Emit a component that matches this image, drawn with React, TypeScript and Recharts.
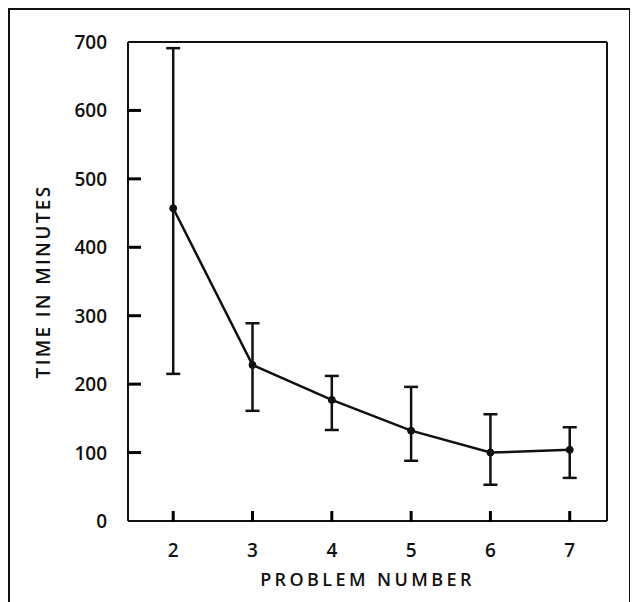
import { ErrorBar, Label, Line, LineChart, ReferenceLine, XAxis, YAxis } from 'recharts';

const problems = [2, 3, 4, 5, 6, 7];
const meanMinutes = [457, 228, 177, 132, 100, 104];
const lowMinutes = [215, 161, 133, 88, 53, 63];
const highMinutes = [691, 289, 212, 196, 156, 137];
const yTicks = [0, 100, 200, 300, 400, 500, 600, 700];

const data = problems.map((p, i) => ({
  problem: p,
  mean: meanMinutes[i],
  err: [meanMinutes[i] - lowMinutes[i], highMinutes[i] - meanMinutes[i]],
}));

const ink = '#111';
const font = '"Open Sans", "Liberation Sans", sans-serif';
const textStyle = { fill: ink, fontSize: 19, fontWeight: 600, fontFamily: font };

// tick text plus a short tick mark pointing into the plot
const renderYTick = (props: any) => {
  const { x, y, payload } = props;
  const v = payload.value;
  return (
    <g key={`y-${v}`}>
      {v !== 0 && v !== 700 && <line x1={x + 20} x2={x + 34} y1={y} y2={y} stroke="#000" strokeWidth={3} />}
      <text x={x} y={y} dy={7} textAnchor="end" style={textStyle}>
        {v}
      </text>
    </g>
  );
};

const renderXTick = (props: any) => {
  const { x, y, payload } = props;
  return (
    <g key={`x-${payload.value}`}>
      <line x1={x} x2={x} y1={y - 21} y2={y - 32} stroke="#000" strokeWidth={3} />
      <text x={x} y={y} dy={14} textAnchor="middle" style={textStyle}>
        {payload.value}
      </text>
    </g>
  );
};

export default function App() {
  return (
    <div
      style={{
        width: 619,
        height: 592,
        border: `2px solid ${ink}`,
        borderBottom: 'none',
        background: '#fff',
      }}
    >
      <LineChart width={619} height={592} data={data} margin={{ top: 32, right: 22, left: 0, bottom: 11 }}>
        <XAxis
          type="number"
          dataKey="problem"
          domain={[1.43, 7.47]}
          ticks={problems}
          height={70}
          tick={renderXTick}
          tickSize={0}
          tickMargin={22}
          tickLine={false}
          axisLine={{ stroke: ink, strokeWidth: 2 }}
        >
          <Label
            value="PROBLEM NUMBER"
            position="insideBottom"
            offset={5}
            style={{ ...textStyle, fontSize: 18, letterSpacing: 3.4 }}
          />
        </XAxis>
        <YAxis
          type="number"
          domain={[0, 700]}
          ticks={yTicks}
          width={118}
          tick={renderYTick}
          tickSize={0}
          tickMargin={21}
          tickLine={false}
          axisLine={{ stroke: ink, strokeWidth: 2 }}
        >
          <Label
            value="TIME IN MINUTES"
            angle={-90}
            position="insideLeft"
            offset={33}
            style={{ ...textStyle, fontSize: 19, letterSpacing: 2.3, textAnchor: 'middle' }}
          />
        </YAxis>
        <ReferenceLine y={700} stroke={ink} strokeWidth={2} />
        <ReferenceLine x={7.47} stroke={ink} strokeWidth={2} />
        <Line
          type="linear"
          dataKey="mean"
          stroke={ink}
          strokeWidth={2.5}
          dot={{ r: 3.5, fill: ink, stroke: ink, strokeWidth: 1 }}
          isAnimationActive={false}
        >
          <ErrorBar dataKey="err" width={7} stroke={ink} strokeWidth={2.5} direction="y" />
        </Line>
      </LineChart>
    </div>
  );
}
